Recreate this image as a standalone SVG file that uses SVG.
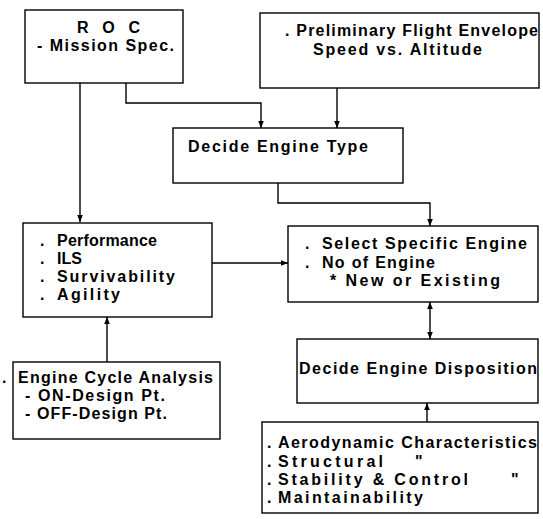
<svg xmlns="http://www.w3.org/2000/svg" width="543" height="519" viewBox="0 0 543 519">
<style>
.box{fill:#fff;stroke:#000;stroke-width:1.4}
.t{font-family:"Liberation Sans",Arial,sans-serif;font-size:16px;font-weight:bold;fill:#000}
.c{fill:none;stroke:#000;stroke-width:1.4}
</style>
<defs>
<marker id="ah" viewBox="0 0 10 10" refX="10" refY="5" markerWidth="7" markerHeight="7" markerUnits="userSpaceOnUse" orient="auto-start-reverse">
<path d="M0,1 L10,5 L0,9 z" fill="#000"/>
</marker>
</defs>
<rect width="543" height="519" fill="#fff"/>
<g id="connectors">
<path class="c" d="M80,83 V222" marker-end="url(#ah)"/>
<path class="c" d="M126,83 V103 H261 V128" marker-end="url(#ah)"/>
<path class="c" d="M337,88 V128" marker-end="url(#ah)"/>
<path class="c" d="M278,183 V203 H430 V226" marker-end="url(#ah)"/>
<path class="c" d="M212,263 H288" marker-end="url(#ah)"/>
<path class="c" d="M107,362 V317" marker-end="url(#ah)"/>
<path class="c" d="M430,302 V339" marker-start="url(#ah)" marker-end="url(#ah)"/>
<path class="c" d="M427,422 V403" marker-end="url(#ah)"/>
</g>
<g id="roc">
<rect class="box" x="25" y="10" width="158" height="73"/>
<text class="t" x="77" y="33" textLength="63">R O C</text>
<text class="t" x="37" y="51" textLength="137">- Mission Spec.</text>
</g>
<g id="envelope">
<rect class="box" x="260" y="13" width="279" height="75"/>
<text class="t" x="285" y="36" textLength="253">. Preliminary Flight Envelope</text>
<text class="t" x="313" y="55" textLength="169">Speed vs. Altitude</text>
</g>
<g id="engine-type">
<rect class="box" x="173" y="128" width="230" height="55"/>
<text class="t" x="188" y="152" textLength="180">Decide Engine Type</text>
</g>
<g id="performance">
<rect class="box" x="23" y="223" width="189" height="94"/>
<text class="t" x="40" y="246">.</text><text class="t" x="57" y="246" textLength="100">Performance</text>
<text class="t" x="40" y="264">.</text><text class="t" x="57" y="264">ILS</text>
<text class="t" x="40" y="282">.</text><text class="t" x="57" y="282" textLength="118">Survivability</text>
<text class="t" x="40" y="300">.</text><text class="t" x="57" y="300" textLength="63">Agility</text>
</g>
<g id="select-engine">
<rect class="box" x="288" y="226" width="250" height="76"/>
<text class="t" x="305" y="249">.</text><text class="t" x="322" y="249" textLength="205">Select Specific Engine</text>
<text class="t" x="305" y="268">.</text><text class="t" x="322" y="268" textLength="113">No of Engine</text>
<text class="t" x="330" y="286" textLength="170">* New or Existing</text>
</g>
<g id="cycle-analysis">
<rect class="box" x="13" y="362" width="207" height="77"/>
<text class="t" x="2" y="383">.</text>
<text class="t" x="18" y="383" textLength="195">Engine Cycle Analysis</text>
<text class="t" x="25" y="401" textLength="140">- ON-Design Pt.</text>
<text class="t" x="25" y="419" textLength="142">- OFF-Design Pt.</text>
</g>
<g id="disposition">
<rect class="box" x="297" y="339" width="241" height="64"/>
<text class="t" x="299" y="374" textLength="238">Decide Engine Disposition</text>
</g>
<g id="characteristics">
<rect class="box" x="262" y="422" width="276" height="91"/>
<text class="t" x="267" y="448">.</text><text class="t" x="278" y="448" textLength="259">Aerodynamic Characteristics</text>
<text class="t" x="267" y="467">.</text><text class="t" x="278" y="467" textLength="105">Structural</text><text class="t" x="415" y="467">"</text>
<text class="t" x="267" y="485">.</text><text class="t" x="278" y="485" textLength="190">Stability &amp; Control</text><text class="t" x="511" y="485">"</text>
<text class="t" x="267" y="503">.</text><text class="t" x="278" y="503" textLength="145">Maintainability</text>
</g>
</svg>
